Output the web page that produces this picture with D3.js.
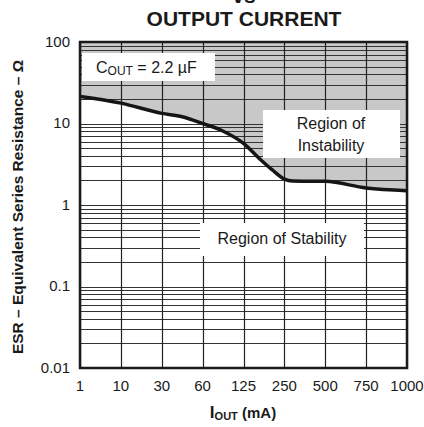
<!DOCTYPE html>
<meta charset="utf-8">
<style>
    body {
        margin: 0;
        background-color: white;
    }

    text {
        font-family: "Liberation Sans", Arial, Helvetica, sans-serif;
        fill: #1a1a1a;
    }

    .tick-label {
        font-size: 15px;
    }

    .title,
    .axis-title {
        font-weight: 700;
    }

    .note {
        font-size: 16px;
    }
</style>

<body>
    <script src="https://d3js.org/d3.v7.min.js"></script>
    <script>

        // x ticks are evenly spaced categories (mA)
        var xTicks = [1, 10, 30, 60, 125, 250, 500, 750, 1000];
        var yTicks = [0.01, 0.1, 1, 10, 100];

        // stability boundary (mA, ohm)
        var curveIout = [1, 10, 30, 45, 60, 92, 125, 174, 213, 250, 300, 500, 750, 1000];
        var curveEsr = [21.5, 17.8, 13.3, 12.1, 10, 8.1, 5.7, 3.7, 2.7, 2.08, 1.97, 1.95, 1.62, 1.5];

        var width = 424,
            height = 427,
            margin = { left: 80, top: 42, right: 17, bottom: 59 },
            w = width - margin.left - margin.right,
            h = height - margin.top - margin.bottom;

        var svg = d3.select("body").append("svg")
            .attr("width", width)
            .attr("height", height);

        var g = svg.append("g")
            .attr("transform", "translate(" + margin.left + "," + margin.top + ")");

        // piecewise linear x: every tick gets the same width
        var x = d3.scaleLinear()
            .domain(xTicks)
            .range(xTicks.map(function (d, i) { return i * w / (xTicks.length - 1); }));

        var y = d3.scaleLog()
            .domain([0.01, 100])
            .range([h, 0]);

        var points = curveIout.map(function (d, i) { return { i: d, r: curveEsr[i] }; });

        // region of instability (above the curve)
        var area = d3.area()
            .curve(d3.curveMonotoneX)
            .x(function (d) { return x(d.i); })
            .y0(0)
            .y1(function (d) { return y(d.r); });

        g.append("path")
            .datum(points)
            .attr("d", area)
            .attr("fill", "#c8c8c8");

        // horizontal log grid
        g.append("g").selectAll("line")
            .data(y.ticks())
            .enter().append("line")
            .attr("x1", 0)
            .attr("x2", w)
            .attr("y1", function (d) { return Math.round(y(d)) + 0.5; })
            .attr("y2", function (d) { return Math.round(y(d)) + 0.5; })
            .attr("stroke", "#333")
            .attr("stroke-width", 1);

        // vertical grid
        g.append("g").selectAll("line")
            .data(xTicks)
            .enter().append("line")
            .attr("x1", function (d) { return Math.round(x(d)) + 0.5; })
            .attr("x2", function (d) { return Math.round(x(d)) + 0.5; })
            .attr("y1", 0)
            .attr("y2", h)
            .attr("stroke", "#222")
            .attr("stroke-width", 1.2);

        var line = d3.line()
            .curve(d3.curveMonotoneX)
            .x(function (d) { return x(d.i); })
            .y(function (d) { return y(d.r); });

        g.append("path")
            .datum(points)
            .attr("d", line)
            .attr("fill", "none")
            .attr("stroke", "#151515")
            .attr("stroke-width", 3.5)
            .attr("stroke-linejoin", "round");

        // white label boxes
        function box(x0, y0, x1, y1) {
            svg.append("rect")
                .attr("x", x0).attr("y", y0)
                .attr("width", x1 - x0).attr("height", y1 - y0)
                .attr("fill", "white");
        }

        box(82, 53, 215, 81);
        box(263, 110, 400, 158);
        box(200, 223, 364, 256);

        var cout = svg.append("text")
            .attr("class", "note")
            .attr("x", 96)
            .attr("y", 73);
        cout.append("tspan").text("C");
        cout.append("tspan").attr("font-size", "12px").attr("dy", 2).text("OUT");
        cout.append("tspan").attr("dy", -2).text(" = 2.2 \u00b5F");

        svg.append("text")
            .attr("class", "note")
            .attr("x", 331).attr("y", 129)
            .attr("text-anchor", "middle")
            .text("Region of");
        svg.append("text")
            .attr("class", "note")
            .attr("x", 331).attr("y", 151)
            .attr("text-anchor", "middle")
            .text("Instability");

        svg.append("text")
            .attr("class", "note")
            .attr("x", 282).attr("y", 244)
            .attr("text-anchor", "middle")
            .text("Region of Stability");

        // plot frame
        g.append("rect")
            .attr("width", w)
            .attr("height", h)
            .attr("fill", "none")
            .attr("stroke", "#1a1a1a")
            .attr("stroke-width", 2.5);

        // tick labels
        g.append("g").selectAll("text")
            .data(yTicks)
            .enter().append("text")
            .attr("class", "tick-label")
            .attr("x", -10)
            .attr("y", function (d) { return y(d); })
            .attr("dy", "0.32em")
            .attr("text-anchor", "end")
            .text(function (d) { return d; });

        g.append("g").selectAll("text")
            .data(xTicks)
            .enter().append("text")
            .attr("class", "tick-label")
            .attr("x", function (d) { return x(d); })
            .attr("y", h + 23)
            .attr("text-anchor", "middle")
            .text(function (d) { return d; });

        // titles ("vs" is cut by the top edge, as in the original)
        svg.append("text")
            .attr("class", "title")
            .attr("x", 244).attr("y", 3)
            .attr("text-anchor", "middle")
            .attr("font-size", "21px")
            .text("vs");
        svg.append("text")
            .attr("class", "title")
            .attr("x", 244).attr("y", 26)
            .attr("text-anchor", "middle")
            .attr("font-size", "21px")
            .text("OUTPUT CURRENT");

        var xt = svg.append("text")
            .attr("class", "axis-title")
            .attr("x", 243).attr("y", 418)
            .attr("text-anchor", "middle")
            .attr("font-size", "15px");
        xt.append("tspan").attr("font-size", "17px").text("I");
        xt.append("tspan").attr("font-size", "11px").attr("dy", 2).text("OUT");
        xt.append("tspan").attr("dy", -2).text(" (mA)");

        svg.append("text")
            .attr("class", "axis-title")
            .attr("transform", "translate(23," + (margin.top + h / 2 + 2) + ")rotate(-90)")
            .attr("text-anchor", "middle")
            .attr("font-size", "15.5px")
            .text("ESR \u2013 Equivalent Series Resistance \u2013 \u03a9");

    </script>
</body>
